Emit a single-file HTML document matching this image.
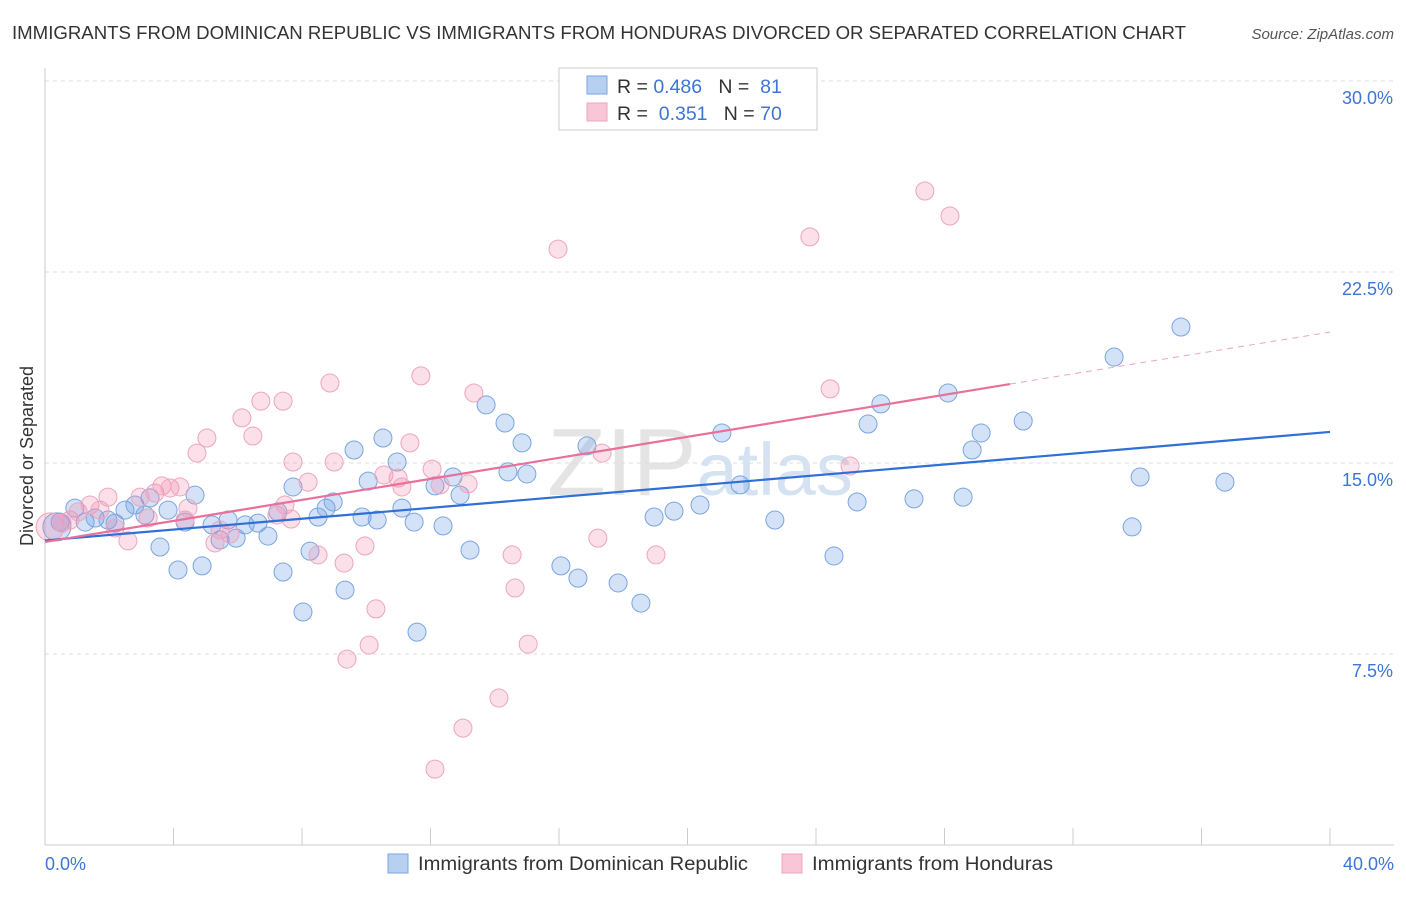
<!DOCTYPE html>
<html><head><meta charset="utf-8"><style>
body{margin:0;background:#fff;font-family:"Liberation Sans",sans-serif;}
svg text{font-family:"Liberation Sans",sans-serif;}
</style></head><body>
<svg id="chart" width="1406" height="892">
<text x="12" y="39" font-size="18" fill="#333" textLength="1174" lengthAdjust="spacingAndGlyphs">IMMIGRANTS FROM DOMINICAN REPUBLIC VS IMMIGRANTS FROM HONDURAS DIVORCED OR SEPARATED CORRELATION CHART</text>
<text x="1394" y="39" font-size="15" fill="#555" font-style="italic" text-anchor="end">Source: ZipAtlas.com</text>
<text x="33" y="456" font-size="18" fill="#333" text-anchor="middle" transform="rotate(-90 33 456)">Divorced or Separated</text>
<text x="700" y="495" font-size="96" fill="#e4e4e4" text-anchor="middle" font-family="Liberation Serif">ZIP<tspan fill="#d4e2f2" font-family="Liberation Sans" font-size="74">atlas</tspan></text>
<g id="grid"></g><g id="axes"></g><g id="pts"></g><g id="lines"></g>
<g>
<rect x="559" y="68" width="258" height="62" fill="#fff" stroke="#ccc"/>
<rect x="587" y="76" width="20" height="18" fill="#b7d0f2" stroke="#7aa5e0"/>
<rect x="587" y="103" width="20" height="18" fill="#f8c6d6" stroke="#eea5bd"/>
<text x="617" y="93" font-size="19.5" fill="#333">R = <tspan fill="#3d75d6">0.486</tspan>&#160;&#160;&#160;N = &#160;<tspan fill="#3d75d6">81</tspan></text>
<text x="617" y="120" font-size="19.5" fill="#333">R = &#160;<tspan fill="#3d75d6">0.351</tspan>&#160;&#160;&#160;N = <tspan fill="#3d75d6">70</tspan></text>
</g>
<g>
<rect x="388" y="854" width="20" height="19" fill="#b7d0f2" stroke="#7aa5e0"/>
<text x="418" y="870" font-size="19" fill="#333" textLength="330" lengthAdjust="spacingAndGlyphs">Immigrants from Dominican Republic</text>
<rect x="782" y="854" width="20" height="19" fill="#f8c6d6" stroke="#eea5bd"/>
<text x="812" y="870" font-size="19" fill="#333" textLength="241" lengthAdjust="spacingAndGlyphs">Immigrants from Honduras</text>
</g>
</svg>
<script>
const xTicks=[0,4,8,12,16,20,24,28,32,36,40];
const yTicks=[7.5,15,22.5,30];
const yTickLabels=["7.5%","15.0%","22.5%","30.0%"];
const blueX=[0.37,0.47,0.93,1.25,1.56,1.96,2.18,2.49,2.80,3.11,3.27,3.58,3.83,4.14,4.36,4.67,4.89,5.20,5.45,5.70,5.95,6.23,6.63,6.94,7.25,7.41,7.72,8.03,8.25,8.50,8.75,8.97,9.34,9.62,9.87,10.06,10.34,10.52,10.96,11.11,11.49,11.58,12.14,12.39,12.70,12.92,13.23,13.73,14.32,14.41,14.85,15.00,16.06,16.59,16.87,17.84,18.55,18.96,19.58,20.39,21.07,21.64,22.72,24.56,25.28,25.62,26.02,27.05,28.11,28.58,28.86,29.14,30.45,33.28,33.84,34.09,35.36,36.73];
const blueY=[12.49,12.68,13.23,12.68,12.84,12.76,12.64,13.15,13.35,12.96,13.63,11.70,13.15,10.80,12.68,13.74,10.96,12.57,11.98,12.76,12.05,12.57,12.64,12.13,13.08,10.72,14.06,9.15,11.54,12.88,13.23,13.47,10.01,15.51,12.88,14.29,12.76,15.98,15.04,13.23,12.68,8.36,14.10,12.53,14.45,13.74,11.58,17.28,16.57,14.65,15.79,14.57,10.96,10.48,15.67,10.29,9.50,12.88,13.11,13.35,16.18,14.14,12.76,11.35,13.47,16.53,17.32,13.59,17.75,13.66,15.51,16.18,16.65,19.16,12.49,14.45,20.34,14.25];
const pinkX=[0.16,0.53,0.78,1.03,1.40,1.71,1.96,2.18,2.58,2.96,3.21,3.42,3.64,3.89,4.20,4.36,4.45,4.73,5.04,5.29,5.45,5.76,6.13,6.47,6.72,7.22,7.41,7.47,7.66,7.72,8.19,8.50,8.87,9.00,9.31,9.40,9.96,10.09,10.30,10.55,10.99,11.11,11.36,11.70,12.05,12.14,12.30,13.01,13.17,13.35,14.13,14.54,14.63,15.04,15.97,17.21,17.34,19.02,23.81,24.44,25.06,27.39,28.17];
const pinkY=[12.49,12.64,12.76,13.08,13.35,13.15,13.66,12.45,11.94,13.66,12.84,13.82,14.10,14.02,14.06,12.76,13.23,15.39,15.98,11.86,12.37,12.21,16.77,16.06,17.43,12.96,17.43,13.35,12.80,15.04,14.25,11.39,18.14,15.04,11.07,7.30,11.74,7.85,9.27,14.53,14.41,14.06,15.79,18.42,14.76,2.98,14.14,4.59,14.18,17.75,5.77,11.39,10.09,7.89,23.40,12.05,15.39,11.39,23.88,17.91,14.88,25.68,24.70];
const blueTrend=[[0,11.96],[40,16.22]];
const pinkTrend=[[0,11.9],[30.04,18.1]];
const pinkTrendExt=[[30.04,18.1],[40,20.14]];
const X=v=>45+v*1285/40, Y=v=>463-(v-15)*191/7.5;
const NS="http://www.w3.org/2000/svg";
function mk(t,a,p){const e=document.createElementNS(NS,t);for(const k in a)e.setAttribute(k,a[k]);p.appendChild(e);return e;}
const grid=document.getElementById('grid'),axes=document.getElementById('axes'),pts=document.getElementById('pts'),lines=document.getElementById('lines');
yTicks.forEach((v,i)=>{
 const g=mk('line',{x1:45,x2:1394,y1:Y(v),y2:Y(v),stroke:'#ddd','stroke-dasharray':'4 4'},grid);
 
 
 const t=mk('text',{x:1393,y:Y(v)+23,'font-size':18,fill:'#3d75d6','text-anchor':'end'},axes);
 t.textContent=yTickLabels[i];
 
 
});
const ax=mk('line',{x1:45,x2:1394,y1:845,y2:845,stroke:'#ccc'},axes);


const ay=mk('line',{x1:45,x2:45,y1:68,y2:845,stroke:'#ccc'},axes);


xTicks.forEach(v=>{
 const l=mk('line',{x1:X(v),x2:X(v),y1:828,y2:845,stroke:'#ccc'},axes);
 
 
});
const x0=mk('text',{x:45,y:870,'font-size':18,fill:'#3d75d6'},axes);x0.textContent='0.0%';


const x1=mk('text',{x:1394,y:870,'font-size':18,fill:'#3d75d6','text-anchor':'end'},axes);x1.textContent='40.0%';


function dots(xs,ys,fill,stroke,name){xs.forEach((x,i)=>{
 const c=mk('circle',{cx:X(x),cy:Y(ys[i]),r:i==0?14:9,fill:fill,stroke:stroke,'stroke-width':1},pts);
 
 
});}
dots(blueX,blueY,'rgba(110,160,230,0.3)','#7aa5e0','point-dominican');
dots(pinkX,pinkY,'rgba(240,140,175,0.28)','#eea5bd','point-honduras');
function ln(p,col,dash,name){const l=mk('line',{x1:X(p[0][0]),y1:Y(p[0][1]),x2:X(p[1][0]),y2:Y(p[1][1]),stroke:col,'stroke-width':dash?1:2.2,'stroke-dasharray':dash?'6 5':'none'},lines);
 
 }
ln(blueTrend,'#2f6fd6',false,'trend-dominican');
ln(pinkTrend,'#e8709a',false,'trend-honduras');
ln(pinkTrendExt,'#eea5bd',true,'trend-honduras-extension');
</script>
</body></html>
